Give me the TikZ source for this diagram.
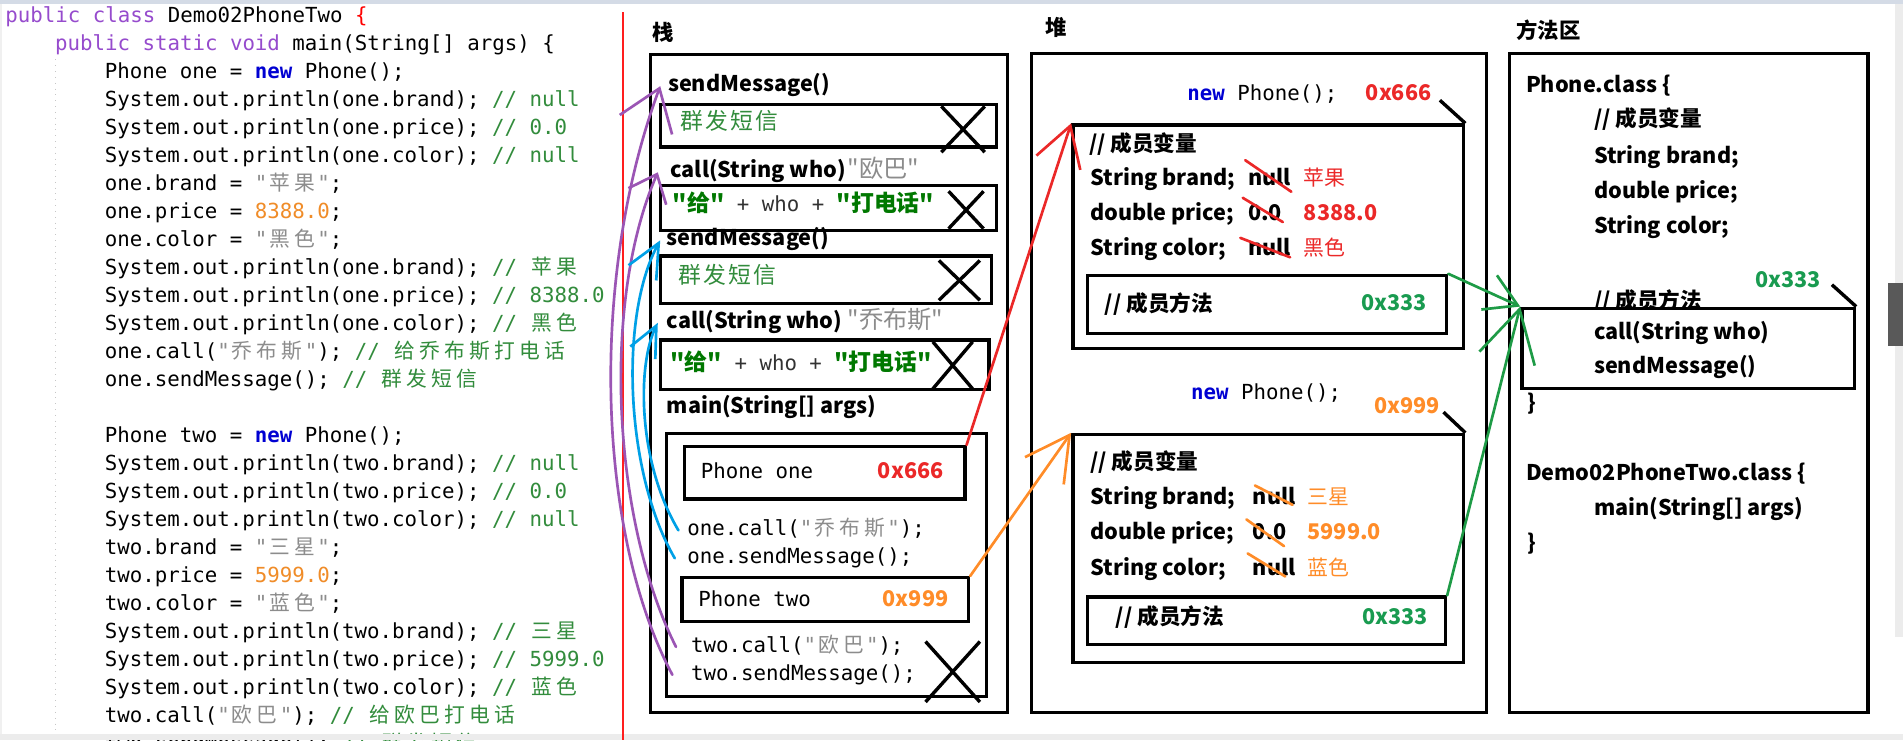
\documentclass[tikz,border=0pt]{standalone}
\usepackage{fontspec}
\newfontfamily\codefont{DejaVu Sans Mono}
\newfontfamily\cjkfont{Noto Sans CJK SC}
\usetikzlibrary{arrows.meta,fit,shapes.misc}

\definecolor{kwpurple}{RGB}{150,75,205}
\definecolor{newblue}{RGB}{0,0,210}
\definecolor{strgray}{RGB}{140,140,140}
\definecolor{numorange}{RGB}{240,140,40}
\definecolor{cmtgreen}{RGB}{50,140,60}
\definecolor{saygreen}{RGB}{0,120,0}
\definecolor{saygray}{RGB}{50,50,50}
\definecolor{addrred}{RGB}{235,40,40}
\definecolor{addrorange}{RGB}{255,140,40}
\definecolor{addrgreen}{RGB}{25,155,80}
\definecolor{arrblue}{RGB}{0,160,230}
\definecolor{arrpurple}{RGB}{155,85,180}
\definecolor{arrgreen}{RGB}{30,155,70}
\definecolor{linered}{RGB}{255,30,30}
\definecolor{topgray}{RGB}{212,219,230}

% code colouring
\newcommand\kwd[1]{\textcolor{kwpurple}{#1}}
\newcommand\nwk[1]{\textcolor{newblue}{\bfseries #1}}
\newcommand\strg[1]{\textcolor{strgray}{#1}}
\newcommand\numb[1]{\textcolor{numorange}{#1}}
\newcommand\cmt[1]{\textcolor{cmtgreen}{#1}}
\newcommand\bgrn[1]{{\cjkfont\bfseries\fontsize{9.4pt}{11pt}\selectfont\color{saygreen}#1}}

% chinese characters, two code cells each
\newlength\cjkcell
\setlength\cjkcell{10.3pt}
\newcommand\cc[1]{\ccloop#1\relax}
\newcommand\ccloop[1]{\ifx\relax#1\else\makebox[\cjkcell]{\cjkfont #1}\expandafter\ccloop\fi}

\begin{document}
\begin{tikzpicture}[
    x=0.5pt, y=-0.5pt,
    box/.style={draw=black, line width=1.4pt, inner sep=0pt, fit={#1}},
    code/.style={font=\codefont\fontsize{8.55pt}{10pt}\selectfont, anchor=west,
      inner sep=0pt, text height=6.5pt, text depth=2pt},
    lbl/.style={font=\cjkfont\bfseries\fontsize{8.9pt}{11pt}\selectfont, anchor=west,
      inner sep=0pt, text height=6.5pt, text depth=2pt},
    area/.style={lbl, font=\cjkfont\bfseries\fontsize{8.8pt}{10pt}\selectfont},
    msg/.style={font=\fontsize{9.4pt}{11pt}\selectfont, text=cmtgreen, anchor=west,
      inner sep=0pt, text height=6.5pt, text depth=2pt},
    arg/.style={font=\cjkfont\fontsize{10pt}{12pt}\selectfont, text=strgray, anchor=west,
      inner sep=0pt, text height=6.5pt, text depth=2pt},
    say/.style={code, text=saygray},
    vcn/.style={font=\cjkfont\fontsize{8.6pt}{10pt}\selectfont, anchor=west,
      inner sep=0pt, text height=6.5pt, text depth=2pt},
    xmark/.style={cross out, draw=black, line width=1.4pt, inner sep=0pt},
    cornertick/.style={line width=1.4pt},
    valstrike/.style={line width=1.1pt, line cap=round},
    ptr/.style args={#1/#2}{line width=1.1pt, line cap=round, line join=round,
      -{Straight Barb[length=#1,width=#2]}}
  ]
  \useasboundingbox (0,0) rectangle (1568,610);
  \fill[white] (0,0) rectangle (1568,610);

  % editor frame
  \fill[topgray] (0,0) rectangle (1568,3.5);
  \fill[gray!12] (0,3.5) rectangle (1.5,607);
  \fill[gray!15] (1561,3.5) rectangle (1568,525);
  \fill[gray!70!black] (1556,233) rectangle (1568,285);
  \draw[gray!45, dotted, line width=0.4pt] (46,49) -- (46,607);

  % source code
  \foreach \n/\x/\t in {
      1/4/{\kwd{public class} Demo02PhoneTwo \textcolor{red}{\{}},
      2/45/{\kwd{public static void} main(String[] args) \{},
      3/86/{Phone one = \nwk{new} Phone();},
      4/86/{System.out.println(one.brand); \cmt{// null}},
      5/86/{System.out.println(one.price); \cmt{// 0.0}},
      6/86/{System.out.println(one.color); \cmt{// null}},
      7/86/{one.brand = \strg{"\cc{苹果}"};},
      8/86/{one.price = \numb{8388.0};},
      9/86/{one.color = \strg{"\cc{黑色}"};},
      10/86/{System.out.println(one.brand); \cmt{// \cc{苹果}}},
      11/86/{System.out.println(one.price); \cmt{// 8388.0}},
      12/86/{System.out.println(one.color); \cmt{// \cc{黑色}}},
      13/86/{one.call(\strg{"\cc{乔布斯}"}); \cmt{// \cc{给乔布斯打电话}}},
      14/86/{one.sendMessage(); \cmt{// \cc{群发短信}}},
      16/86/{Phone two = \nwk{new} Phone();},
      17/86/{System.out.println(two.brand); \cmt{// null}},
      18/86/{System.out.println(two.price); \cmt{// 0.0}},
      19/86/{System.out.println(two.color); \cmt{// null}},
      20/86/{two.brand = \strg{"\cc{三星}"};},
      21/86/{two.price = \numb{5999.0};},
      22/86/{two.color = \strg{"\cc{蓝色}"};},
      23/86/{System.out.println(two.brand); \cmt{// \cc{三星}}},
      24/86/{System.out.println(two.price); \cmt{// 5999.0}},
      25/86/{System.out.println(two.color); \cmt{// \cc{蓝色}}},
      26/86/{two.call(\strg{"\cc{欧巴}"}); \cmt{// \cc{给欧巴打电话}}},
      27/86/{two.sendMessage(); \cmt{// \cc{群发短信}}}}
    \node[code] (c\n) at (\x,{14+23.08*(\n-1)}) {\t};
  \fill[gray!15] (0,605) rectangle (1568,610);

  \draw[linered, line width=0.8pt] (513,10) -- (513,610);

  % stack
  \node[area] (zhan) at (537,29) {栈};
  \node[box={(536,45) (830,587)}] (stack) {};
  \node[lbl] (lsm1) at (550,71) {sendMessage()};
  \node[box={(544,86) (821,121)}] (fsm1) {};
  \node[msg] (t1) at (559,102) {\cc{群发短信}};
  \node[xmark, minimum width=16.5pt, minimum height=17.5pt] (x1) at (793.5,106.5) {};
  \node[lbl] (lc1) at (552,142) {call(String who)};
  \node[arg] (a1) at (698,142) {"欧巴"};
  \node[box={(544,153) (821,190)}] (fc1) {};
  \node[say] (t2) at (554,170) {\bgrn{"给"} + who + \bgrn{"打电话"}};
  \node[xmark, minimum width=13pt, minimum height=14pt] (x2) at (796,173) {};
  \node[lbl] (lsm2) at (549,198) {sendMessage()};
  \node[box={(544,211) (817,250)}] (fsm2) {};
  \node[msg] (t3) at (558,229) {\cc{群发短信}};
  \node[xmark, minimum width=15.5pt, minimum height=15pt] (x3) at (790.5,231) {};
  \node[lbl] (lc2) at (549,266) {call(String who)};
  \node[arg] (a2) at (698,266) {"乔布斯"};
  \node[box={(544,280) (815,321)}] (fc2) {};
  \node[say] (t4) at (552,301) {\bgrn{"给"} + who + \bgrn{"打电话"}};
  \node[xmark, minimum width=15pt, minimum height=18pt] (x4) at (785,301) {};
  \node[lbl] (lmain) at (549,336) {main(String[] args)};
  \node[box={(549,357) (813,574)}] (fmain) {};
  \node[box={(564,368) (795,411)}] (one) {};
  \node[code] (pone) at (577,390) {Phone one};
  \node[lbl, text=addrred] (aone) at (723,390) {0x666};
  \node[code] (oc) at (566,437) {one.call(\strg{"\cc{乔布斯}"});};
  \node[code] (os) at (566,460) {one.sendMessage();};
  \node[box={(562,476) (798,512)}] (two) {};
  \node[code] (ptwo) at (575,495) {Phone two};
  \node[lbl, text=addrorange] (atwo) at (727,495) {0x999};
  \node[code] (tc) at (569,533) {two.call(\strg{"\cc{欧巴}"});};
  \node[code] (ts) at (569,556) {two.sendMessage();};
  \node[xmark, minimum width=21pt, minimum height=23.5pt] (x5) at (785,553.5) {};

  % heap
  \node[area] (dui) at (861,25) {堆};
  \node[box={(850,44) (1225,587)}] (heap) {};
  \node[code] (new1) at (978,78) {\nwk{new} Phone();};
  \node[lbl, text=addrred] (ad1) at (1125,78) {0x666};
  \node[box={(884,103) (1206,287)}] (obj1) {};
  \draw[cornertick] (obj1.north east) -- ++(-21,-19);
  \node[lbl] (v1) at (897,120) {// 成员变量};
  \node[lbl] (b1) at (898,148) {String brand;};
  \node[lbl] (nb1) at (1028,148) {null};
  \node[vcn, text=addrred] (vb1) at (1074,148) {苹果};
  \node[lbl] (p1) at (898,177) {double price;};
  \node[lbl] (np1) at (1028,177) {0.0};
  \node[lbl, text=addrred] (vp1) at (1074,177) {8388.0};
  \node[lbl] (k1) at (898,206) {String color;};
  \node[lbl] (nk1) at (1028,206) {null};
  \node[vcn, text=addrred] (vk1) at (1074,206) {黑色};
  \draw[valstrike, addrred] (1026,132) -- (1064,158);
  \draw[valstrike, addrred] (1024,163) -- (1057,183);
  \draw[valstrike, addrred] (1022,196) -- (1063,212);
  \node[box={(896,227) (1192,275)}] (m1) {};
  \node[lbl] (mt1) at (910,252) {// 成员方法};
  \node[lbl, text=addrgreen] (ma1) at (1121,251) {0x333};

  \node[code] (new2) at (981,325) {\nwk{new} Phone();};
  \node[lbl, text=addrorange] (ad2) at (1132,336) {0x999};
  \node[box={(884,358) (1206,546)}] (obj2) {};
  \draw[cornertick] (obj2.north east) -- ++(-18,-17);
  \node[lbl] (v2) at (898,382) {// 成员变量};
  \node[lbl] (b2) at (898,411) {String brand;};
  \node[lbl] (nb2) at (1032,411) {null};
  \node[vcn, text=addrorange] (vb2) at (1077,411) {三星};
  \node[lbl] (p2) at (898,440) {double price;};
  \node[lbl] (np2) at (1032,440) {0.0};
  \node[lbl, text=addrorange] (vp2) at (1077,440) {5999.0};
  \node[lbl] (k2) at (898,470) {String color;};
  \node[lbl] (nk2) at (1032,470) {null};
  \node[vcn, text=addrorange] (vk2) at (1077,470) {蓝色};
  \draw[valstrike, addrorange] (1034,400) -- (1065,416);
  \draw[valstrike, addrorange] (1027,428) -- (1058,450);
  \draw[valstrike, addrorange] (1028,456) -- (1059,475);
  \node[box={(896,492) (1191,531)}] (m2) {};
  \node[lbl] (mt2) at (919,510) {// 成员方法};
  \node[lbl, text=addrgreen] (ma2) at (1122,510) {0x333};

  % method area
  \node[area] (fang) at (1249,27) {方法区};
  \node[box={(1244,44) (1539,587)}] (meth) {};
  \node[lbl] (pcls) at (1257,72) {Phone.class \{};
  \node[lbl] (pv) at (1313,100) {// 成员变量};
  \node[lbl] (pb) at (1313,130) {String brand;};
  \node[lbl] (pp) at (1313,159) {double price;};
  \node[lbl] (pk) at (1313,188) {String color;};
  \node[lbl] (pm) at (1313,250) {// 成员方法};
  \node[lbl, text=addrgreen] (ad3) at (1446,232) {0x333};
  \node[box={(1254,254) (1528,320)}, fill=white] (mm) {};
  \draw[cornertick] (mm.north east) -- ++(-20,-18);
  \node[lbl] (pcall) at (1313,275) {call(String who)};
  \node[lbl] (psend) at (1313,303) {sendMessage()};
  \node[lbl] (pend) at (1258,334) {\}};
  \node[lbl] (dcls) at (1257,391) {Demo02PhoneTwo.class \{};
  \node[lbl] (dmain) at (1313,420) {main(String[] args)};
  \node[lbl] (dend) at (1258,449) {\}};

  % calls: code line -> stack frame
  \draw[ptr={16pt/23pt}, arrpurple] ([xshift=-7.5pt]ts.west)
    .. controls (492,440) and (485,230) .. ([xshift=-3pt]lsm1.west);
  \draw[ptr={10pt/17pt}, arrpurple] ([xshift=-6pt]tc.west)
    .. controls (505,430) and (495,250) .. ([xshift=-5pt]lc1.west);
  \draw[ptr={14pt/13pt}, arrblue] ([xshift=-5pt]os.west)
    .. controls (515,390) and (510,260) .. ([xshift=-2.5pt]lsm2.west);
  \draw[ptr={12.5pt/11.5pt}, arrblue] ([xshift=-3.5pt]oc.west)
    .. controls (525,380) and (525,300) .. ([xshift=-3.5pt]lc2.west);

  % references: stack -> heap -> method area
  \draw[ptr={16pt/19pt}, addrred] (one.north east) -- (obj1.north west);
  \draw[ptr={18pt/19.5pt}, addrorange] (two.north east) -- (obj2.north west);
  \draw[ptr={13pt/15.5pt}, arrgreen] (m1.north east) -- (mm.north west);
  \draw[ptr={21pt/23.5pt}, arrgreen] (m2.north east) -- (mm.north west);
\end{tikzpicture}
\end{document}
